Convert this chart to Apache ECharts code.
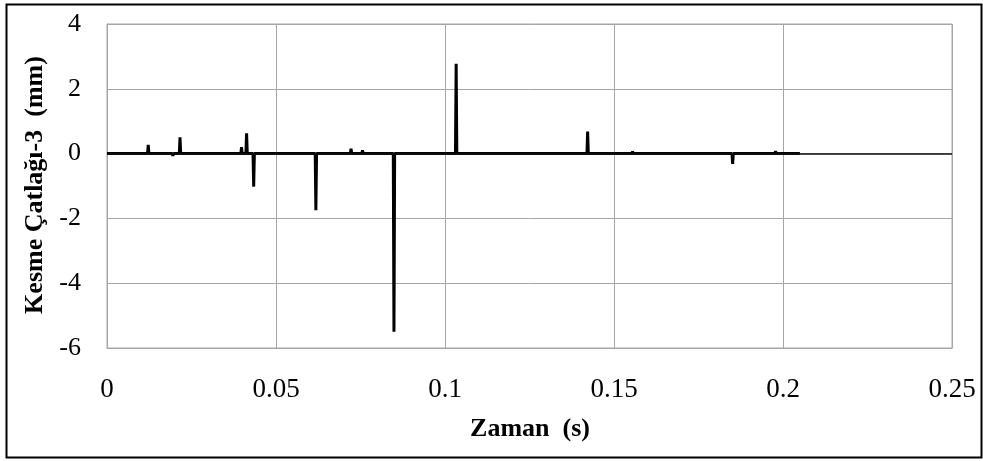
<!DOCTYPE html>
<html>
<head>
<meta charset="utf-8">
<script src="https://cdn.jsdelivr.net/npm/echarts@6/dist/echarts.min.js"></script>
<style>
  html, body { margin: 0; padding: 0; background: #ffffff; }
  #chart { width: 983px; height: 461px; }
</style>
</head>
<body>
<div id="chart"></div>
<script>
// Shear crack-3 displacement record over time
const timeSec = [
  0, 0.006, 0.0098, 0.01, 0.0102, 0.012, 0.0122, 0.0124, 0.0158, 0.016,
  0.0162, 0.0193, 0.0195, 0.0197, 0.0214, 0.0216, 0.0218, 0.0226, 0.0228, 0.023,
  0.03, 0.0353, 0.0355, 0.0357, 0.0396, 0.0398, 0.04, 0.0411, 0.0413, 0.0415,
  0.0432, 0.0434, 0.0436, 0.0462, 0.0464, 0.0466, 0.052, 0.0616, 0.0618, 0.062,
  0.068, 0.072, 0.0722, 0.0724, 0.0754, 0.0756, 0.0758, 0.0847, 0.0849, 0.0851,
  0.094, 0.1031, 0.1033, 0.1035, 0.1053, 0.1055, 0.1057, 0.1126, 0.1128, 0.113,
  0.122, 0.1302, 0.1304, 0.1306, 0.142, 0.1422, 0.1424, 0.1434, 0.1436, 0.1438,
  0.1553, 0.1555, 0.1557, 0.164, 0.1642, 0.1644, 0.1727, 0.1729, 0.1731, 0.1849,
  0.1851, 0.1853, 0.1935, 0.1937, 0.1939, 0.1976, 0.1978, 0.198, 0.205
];
const crackMm = [
  0, 0, 0, 0.06, 0, 0, 0.27, 0, 0, -0.05,
  0, 0, -0.07, 0, 0, 0.5, 0, 0, -0.06, 0,
  0, 0, 0.04, 0, 0, 0.2, 0, 0, 0.63, 0,
  0, -1.02, 0, 0, -0.06, 0, 0, 0, -1.75, 0,
  0, 0, 0.15, 0, 0, 0.1, 0, 0, -5.5, 0,
  0, 0, 2.77, 0, 0, 0.05, 0, 0, -0.05, 0,
  0, 0, 0.04, 0, 0, 0.68, 0, 0, -0.06, 0,
  0, 0.07, 0, 0, 0.04, 0, 0, 0.05, 0, 0,
  -0.32, 0, 0, 0.04, 0, 0, 0.08, 0, 0
];
const xTicks = [0, 0.05, 0.1, 0.15, 0.2, 0.25];
const yTicks = [-6, -4, -2, 0, 2, 4];

const seriesData = timeSec.map((t, i) => [t, crackMm[i]]);

const serif = 'Liberation Serif';
const gridColor = '#a6a6a6';

const chart = echarts.init(document.getElementById('chart'), null, { renderer: 'canvas' });
chart.setOption({
  backgroundColor: '#ffffff',
  animation: false,
  grid: { left: 107, right: 31, top: 24, bottom: 113, show: true, borderColor: gridColor, borderWidth: 1 },
  xAxis: {
    type: 'value',
    min: xTicks[0],
    max: xTicks[xTicks.length - 1],
    interval: 0.05,
    axisLine: { show: true, onZero: false, lineStyle: { color: gridColor, width: 1 } },
    axisTick: { show: false },
    splitLine: { show: true, lineStyle: { color: gridColor, width: 1 } },
    axisLabel: { color: '#000', fontFamily: serif, fontSize: 27, margin: 28,
      formatter: v => String(Math.round(v * 100) / 100) }
  },
  yAxis: {
    type: 'value',
    min: yTicks[0],
    max: yTicks[yTicks.length - 1],
    interval: 2,
    axisLine: { show: true, onZero: false, lineStyle: { color: gridColor, width: 1 } },
    axisTick: { show: false },
    splitLine: { show: true, lineStyle: { color: gridColor, width: 1 } },
    axisLabel: { color: '#000', fontFamily: serif, fontSize: 26, margin: 26 }
  },
  series: [{
    type: 'line',
    data: seriesData,
    showSymbol: false,
    lineStyle: { color: '#000', width: 3 },
    markLine: {
      silent: true,
      symbol: 'none',
      label: { show: false },
      lineStyle: { color: '#111', width: 1.5, type: 'solid' },
      data: [{ yAxis: 0 }]
    },
    z: 3
  }],
  graphic: [
    {
      type: 'rect',
      shape: { x: 6.5, y: 4.5, width: 975, height: 453 },
      style: { fill: 'none', stroke: '#000', lineWidth: 2 },
      silent: true
    },
    {
      type: 'text',
      x: 35, y: 185,
      rotation: Math.PI / 2,
      style: {
        text: 'Kesme Çatlağı-3  (mm)',
        fill: '#000',
        font: 'bold 26px "Liberation Serif"',
        align: 'center',
        verticalAlign: 'middle'
      }
    },
    {
      type: 'text',
      x: 530, y: 429,
      style: {
        text: 'Zaman  (s)',
        fill: '#000',
        font: 'bold 26px "Liberation Serif"',
        align: 'center',
        verticalAlign: 'middle'
      }
    }
  ]
});
</script>
</body>
</html>
